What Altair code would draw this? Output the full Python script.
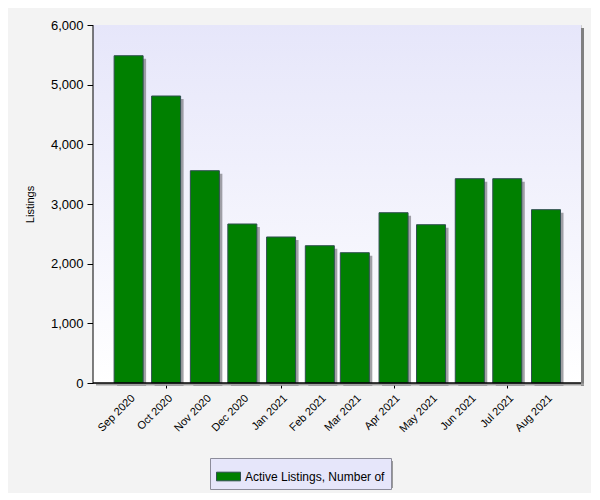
import altair as alt
import pandas as pd

months = ["2020-09-01", "2020-10-01", "2020-11-01", "2020-12-01", "2021-01-01", "2021-02-01",
          "2021-03-01", "2021-04-01", "2021-05-01", "2021-06-01", "2021-07-01", "2021-08-01"]
listings = [5485, 4810, 3558, 2665, 2447, 2301, 2184, 2854, 2653, 3424, 3424, 2905]
series_name = "Active Listings, Number of"
y_ticks = [0, 1000, 2000, 3000, 4000, 5000, 6000]

df = pd.DataFrame({"date": months, "value": listings, "series": [series_name] * len(months)})

W, H = 488, 358
FONT = "Liberation Sans"


def ms(s):
    return int(pd.Timestamp(s, tz="UTC").value // 10**6)


x_scale = alt.Scale(type="utc", nice=False, padding=0,
                    domain=[ms("2020-08-03 12:00"), ms("2021-08-29 00:00")])
y_scale = alt.Scale(domain=[0, 6000], nice=False)

quarter_test = "utcmonth(datum.value) % 3 == 0"

x_axis = alt.Axis(
    title=None, format="%b %Y", labelAngle=-45, labelFont=FONT, labelFontSize=11,
    labelColor="#000000", values=[ms(m) for m in months],
    domain=False, tickColor="#000000", tickSize=5,
    tickOpacity={"condition": {"test": quarter_test, "value": 1}, "value": 0},
    grid=True, gridColor="#cccccc",
    gridOpacity={"condition": {"test": quarter_test, "value": 1}, "value": 0},
    labelPadding=4, labelOverlap=False, labelFlush=False,
)
y_axis = alt.Axis(
    title="Listings", values=y_ticks, format=",.0f", labelFont=FONT, labelFontSize=13,
    labelColor="#000000", domain=False, tickColor="#000000", tickSize=6, labelPadding=4,
    grid=True, gridColor="#cccccc", titleFont=FONT, titleFontSize=11,
    titleFontWeight="normal", titleColor="#000000", titleX=-63, titleY=H / 2,
    titleAlign="center", titleBaseline="middle",
)

bg = alt.Chart(pd.DataFrame({"a": [0]})).mark_rect(
    color=alt.LinearGradient(gradient="linear", x1=0, y1=0, x2=0, y2=1,
                             stops=[alt.GradientStop(offset=0, color="#e6e6fa"),
                                    alt.GradientStop(offset=1, color="#ffffff")])
).encode(x=alt.value(0), x2=alt.value(W), y=alt.value(0), y2=alt.value(H))

base = alt.Chart(df)

shadow = base.mark_bar(width=29, color="#7a7a80", opacity=0.7, xOffset=3, yOffset=3).encode(
    x=alt.X("date:T", scale=x_scale, axis=x_axis),
    y=alt.Y("value:Q", scale=y_scale, axis=y_axis),
)

bars = base.mark_bar(width=29, stroke="#2f4f4f", strokeWidth=1).encode(
    x=alt.X("date:T", scale=x_scale, axis=x_axis),
    y=alt.Y("value:Q", scale=y_scale, axis=y_axis),
    color=alt.Color("series:N", scale=alt.Scale(range=["#008000"]),
                    legend=alt.Legend(
                        title=None, orient="none", legendX=117, legendY=433,
                        fillColor="#e6e6fa", strokeColor="#8c8c9a", padding=6,
                        symbolType="M-1,-0.36H1V0.36H-1Z", symbolSize=576,
                        symbolStrokeColor="#2f4f4f", symbolStrokeWidth=1,
                        symbolFillColor="#008000", symbolOpacity=1,
                        labelFont=FONT, labelFontSize=12, labelColor="#000000",
                        labelLimit=300, labelOffset=4)),
)

frame_shadow = alt.Chart(pd.DataFrame({"a": [0]})).mark_rule(color="#808080", strokeWidth=3).encode(
    x=alt.value(W + 1.5), y=alt.value(3), y2=alt.value(H + 3))
bottom_shadow = alt.Chart(pd.DataFrame({"a": [0]})).mark_rule(color="#a0a0a0", strokeWidth=2).encode(
    x=alt.value(3), x2=alt.value(W + 3), y=alt.value(H + 1.5))
legend_shadow = alt.Chart(pd.DataFrame({"a": [0]})).mark_rect(color="#9a9a9a").encode(
    x=alt.value(120), x2=alt.value(120 + 180), y=alt.value(436), y2=alt.value(436 + 27))
left_line = alt.Chart(pd.DataFrame({"a": [0]})).mark_rule(color="#000000", strokeWidth=1).encode(
    x=alt.value(0), y=alt.value(0), y2=alt.value(H))
bottom_line = alt.Chart(pd.DataFrame({"a": [0]})).mark_rule(color="#000000", strokeWidth=1.5).encode(
    x=alt.value(0), x2=alt.value(W), y=alt.value(H))

chart = alt.layer(bg, shadow, bars, frame_shadow, bottom_shadow, legend_shadow, left_line, bottom_line).properties(
    width=W, height=H,
    autosize=alt.AutoSizeParams(type="none"),
    padding={"left": 85, "top": 17, "right": 10, "bottom": 110},
    background="#f3f3f3",
).configure_view(stroke="#cccccc", strokeWidth=1)

chart.save("out.html", embed_options={"renderer": "svg", "actions": False})
